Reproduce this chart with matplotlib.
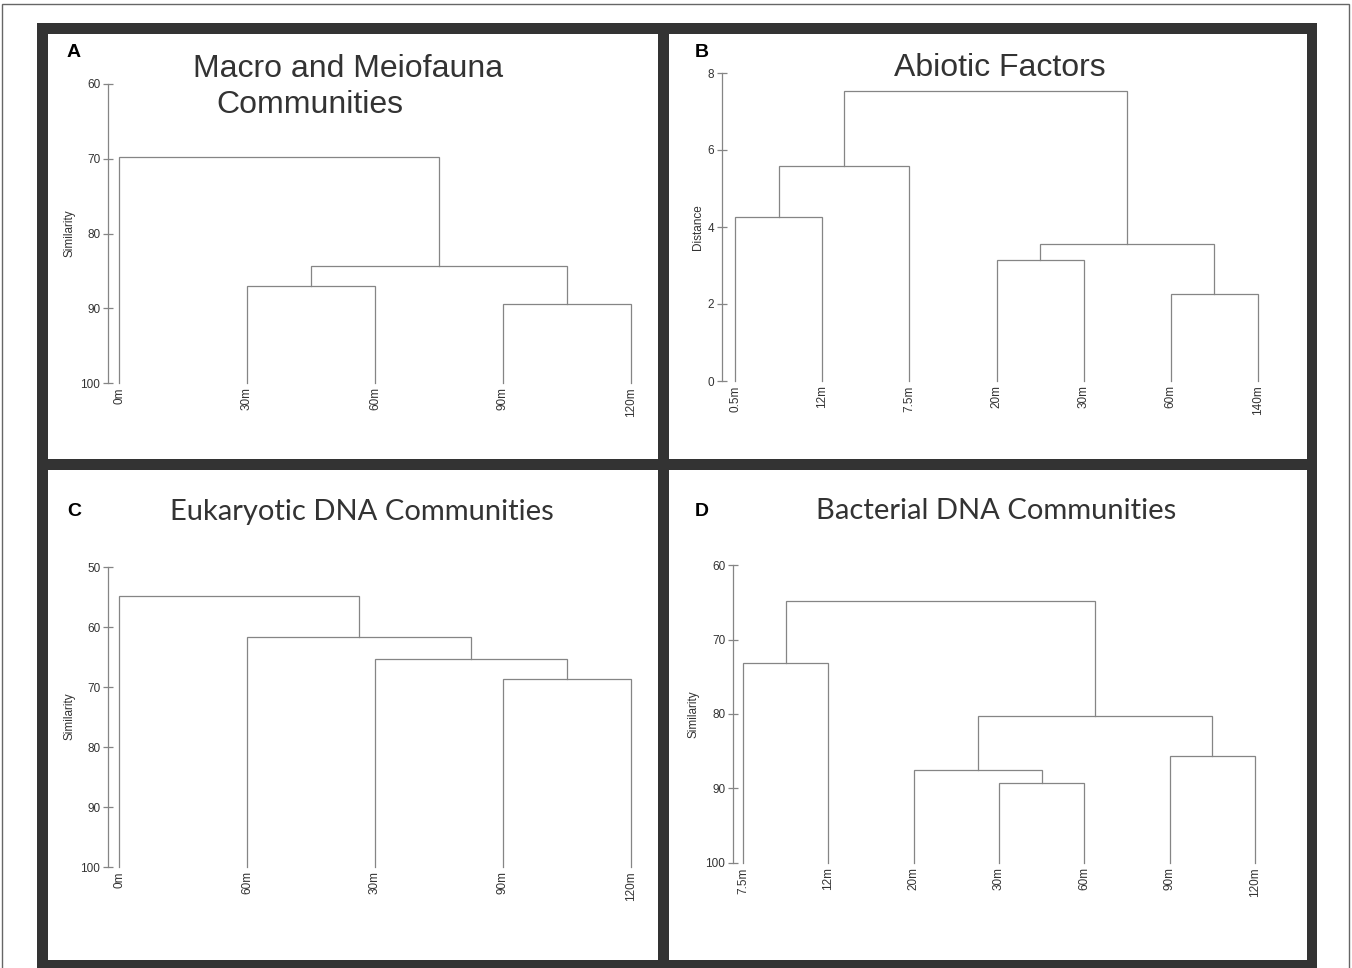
import matplotlib.pyplot as plt
from matplotlib.patches import Rectangle

W, H = 1352, 968

# Panel A - macro and meiofauna (similarity)
a_leaves = ['0m', '30m', '60m', '90m', '120m']
a_merges = [(1, 2, 87.0), (3, 4, 89.4), (5, 6, 84.4), (0, 7, 69.7)]
a_ticks = [60, 70, 80, 90, 100]

# Panel B - abiotic factors (distance)
b_leaves = ['0.5m', '12m', '7.5m', '20m', '30m', '60m', '140m']
b_merges = [(0, 1, 4.25), (7, 2, 5.58), (3, 4, 3.15), (5, 6, 2.25),
            (9, 10, 3.55), (8, 11, 7.52)]
b_ticks = [0, 2, 4, 6, 8]

# Panel C - eukaryotic DNA (similarity)
c_leaves = ['0m', '60m', '30m', '90m', '120m']
c_merges = [(3, 4, 68.7), (2, 5, 65.3), (1, 6, 61.7), (0, 7, 54.8)]
c_ticks = [50, 60, 70, 80, 90, 100]

# Panel D - bacterial DNA (similarity)
d_leaves = ['7.5m', '12m', '20m', '30m', '60m', '90m', '120m']
d_merges = [(0, 1, 73.2), (3, 4, 89.3), (2, 8, 87.5), (5, 6, 85.6),
            (9, 10, 80.3), (7, 11, 64.8)]
d_ticks = [60, 70, 80, 90, 100]

LINE = '#858585'
TXT = '#333333'
ARIAL = 'Liberation Sans'

fig = plt.figure(figsize=(W / 100, H / 100), dpi=100)


def px_rect(l, t, r, b, **kw):
    fig.patches.append(Rectangle((l / W, 1 - b / H), (r - l) / W, (b - t) / H,
                                 transform=fig.transFigure, zorder=-5, **kw))


def px_axes(l, t, r, b):
    return fig.add_axes([l / W, 1 - b / H, (r - l) / W, (b - t) / H])


def fig_text(x, y, s, **kw):
    fig.text(x / W, 1 - y / H, s, **kw)


# outer thin border, dark frame and white panels
px_rect(2, 4, 1349, 975, facecolor='white', edgecolor='#666666', lw=1)
px_rect(37, 23, 1317, 975, facecolor='#333333', edgecolor='none')
for l, t, r, b in [(48, 34, 658, 459), (669, 34, 1307, 459),
                   (48, 470, 658, 960), (669, 470, 1307, 960)]:
    px_rect(l, t, r, b, facecolor='white', edgecolor='none')


def dendro(ax, leaves, merges, base, ticks, lims, pad):
    n = len(leaves)
    xs = list(range(n))
    ys = [base] * n
    for a, b, h in merges:
        ax.plot([xs[a], xs[a], xs[b], xs[b]], [ys[a], h, h, ys[b]],
                color=LINE, lw=0.9, clip_on=False, solid_joinstyle='miter')
        xs.append((xs[a] + xs[b]) / 2)
        ys.append(h)
    ax.set_xlim(-pad, n - 1 + pad)
    ax.set_ylim(*lims)
    ax.patch.set_visible(False)
    for s in ['top', 'right', 'bottom']:
        ax.spines[s].set_visible(False)
    ax.spines['left'].set_color(LINE)
    ax.spines['left'].set_linewidth(0.9)
    ax.set_xticks(range(n))
    ax.set_xticklabels(leaves, rotation=90, fontsize=8.5, color=TXT,
                       family=ARIAL, va='top')
    ax.tick_params(axis='x', length=0, pad=3)
    ax.set_yticks(ticks)
    ax.set_yticklabels([str(t) for t in ticks], fontsize=8.5, color=TXT,
                       family=ARIAL)
    ax.tick_params(axis='y', direction='inout', length=7, width=0.9,
                   color=LINE, pad=2)


axA = px_axes(108, 84, 642, 383)
dendro(axA, a_leaves, a_merges, 100, a_ticks, (100, 60), 0.086)
axB = px_axes(722, 73, 1271, 381)
dendro(axB, b_leaves, b_merges, 0, b_ticks, (0, 8), 0.15)
axC = px_axes(108, 567, 642, 867)
dendro(axC, c_leaves, c_merges, 100, c_ticks, (100, 50), 0.086)
axD = px_axes(733, 565, 1265, 863)
dendro(axD, d_leaves, d_merges, 100, d_ticks, (100, 60), 0.12)

# axis titles
for x, y, s in [(70, 233, 'Similarity'), (698, 227, 'Distance'),
                (70, 716, 'Similarity'), (694, 714, 'Similarity')]:
    fig_text(x, y, s, rotation=90, ha='center', va='center', fontsize=8.5,
             color=TXT, family=ARIAL)

# panel letters
for x, y, s in [(67, 57, 'A'), (695, 57, 'B'), (67, 516, 'C'), (695, 516, 'D')]:
    fig_text(x, y, s, ha='left', va='baseline', fontsize=14, weight='bold',
             color='black', family=ARIAL)

# panel titles
fig_text(348, 77, 'Macro and Meiofauna', ha='center', va='baseline',
         fontsize=23, color=TXT, family=ARIAL)
fig_text(310, 113, 'Communities', ha='center', va='baseline',
         fontsize=23, color=TXT, family=ARIAL)
fig_text(1000, 76, 'Abiotic Factors', ha='center', va='baseline',
         fontsize=23, color=TXT, family=ARIAL)
fig_text(362, 520, 'Eukaryotic DNA Communities', ha='center', va='baseline',
         fontsize=21, color=TXT, family='Lato')
fig_text(996, 519, 'Bacterial DNA Communities', ha='center', va='baseline',
         fontsize=21, color=TXT, family='Lato')

fig.savefig('out.png', dpi=100)
